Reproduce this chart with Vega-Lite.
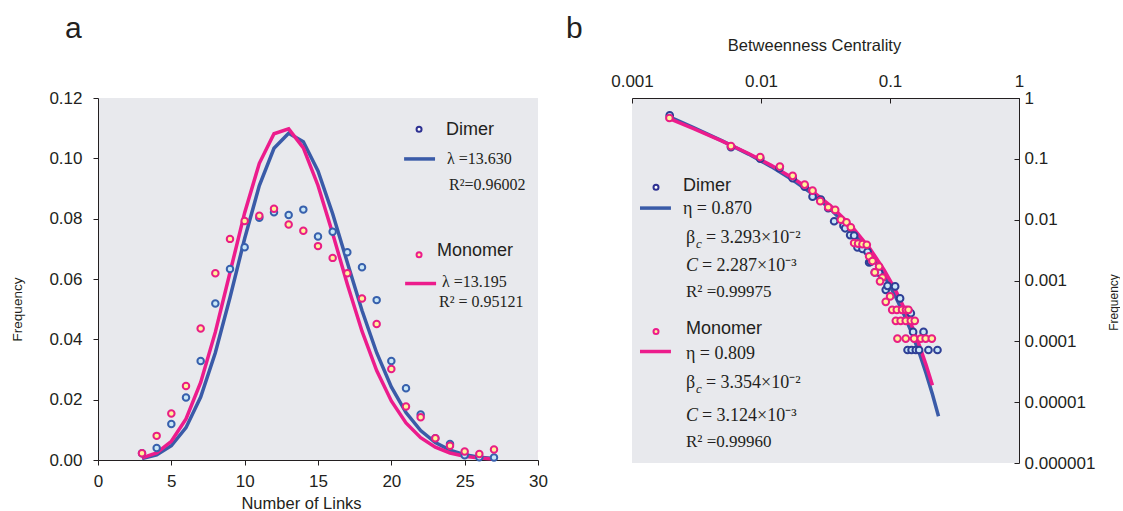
{
  "$schema": "https://vega.github.io/schema/vega-lite/v6.json",
  "background": "white",
  "padding": {"left": 10, "top": 14, "right": 0, "bottom": 0},
  "bounds": "flush",
  "spacing": 94,
  "config": {
    "view": {"fill": "#e8e9ed", "stroke": null},
    "font": "Liberation Sans",
    "axis": {
      "grid": false,
      "domainColor": "#231f20",
      "tickColor": "#231f20",
      "labelColor": "#231f20",
      "titleColor": "#231f20",
      "labelFont": "Liberation Sans",
      "titleFont": "Liberation Sans",
      "titleFontWeight": "normal",
      "labelFontSize": 17,
      "labelFlush": false,
      "labelOverlap": false
    }
  },
  "datasets": {
    "aPts": [
      {"series": "Dimer", "links": 3, "freq": 0.0022}, {"series": "Dimer", "links": 4, "freq": 0.0040},
      {"series": "Dimer", "links": 5, "freq": 0.0119}, {"series": "Dimer", "links": 6, "freq": 0.0207},
      {"series": "Dimer", "links": 7, "freq": 0.0328}, {"series": "Dimer", "links": 8, "freq": 0.0519},
      {"series": "Dimer", "links": 9, "freq": 0.0633}, {"series": "Dimer", "links": 10, "freq": 0.0705},
      {"series": "Dimer", "links": 11, "freq": 0.0803}, {"series": "Dimer", "links": 12, "freq": 0.0821},
      {"series": "Dimer", "links": 13, "freq": 0.0812}, {"series": "Dimer", "links": 14, "freq": 0.0830},
      {"series": "Dimer", "links": 15, "freq": 0.0741}, {"series": "Dimer", "links": 16, "freq": 0.0757},
      {"series": "Dimer", "links": 17, "freq": 0.0689}, {"series": "Dimer", "links": 18, "freq": 0.0639},
      {"series": "Dimer", "links": 19, "freq": 0.0530}, {"series": "Dimer", "links": 20, "freq": 0.0328},
      {"series": "Dimer", "links": 21, "freq": 0.0238}, {"series": "Dimer", "links": 22, "freq": 0.0151},
      {"series": "Dimer", "links": 23, "freq": 0.0072}, {"series": "Dimer", "links": 24, "freq": 0.0053},
      {"series": "Dimer", "links": 25, "freq": 0.0016}, {"series": "Dimer", "links": 26, "freq": 0.0009},
      {"series": "Dimer", "links": 27, "freq": 0.0008},
      {"series": "Monomer", "links": 3, "freq": 0.0022}, {"series": "Monomer", "links": 4, "freq": 0.0080},
      {"series": "Monomer", "links": 5, "freq": 0.0154}, {"series": "Monomer", "links": 6, "freq": 0.0245},
      {"series": "Monomer", "links": 7, "freq": 0.0436}, {"series": "Monomer", "links": 8, "freq": 0.0619},
      {"series": "Monomer", "links": 9, "freq": 0.0733}, {"series": "Monomer", "links": 10, "freq": 0.0792},
      {"series": "Monomer", "links": 11, "freq": 0.0810}, {"series": "Monomer", "links": 12, "freq": 0.0833},
      {"series": "Monomer", "links": 13, "freq": 0.0781}, {"series": "Monomer", "links": 14, "freq": 0.0760},
      {"series": "Monomer", "links": 15, "freq": 0.0709}, {"series": "Monomer", "links": 16, "freq": 0.0670},
      {"series": "Monomer", "links": 17, "freq": 0.0619}, {"series": "Monomer", "links": 18, "freq": 0.0535},
      {"series": "Monomer", "links": 19, "freq": 0.0451}, {"series": "Monomer", "links": 20, "freq": 0.0302},
      {"series": "Monomer", "links": 21, "freq": 0.0177}, {"series": "Monomer", "links": 22, "freq": 0.0142},
      {"series": "Monomer", "links": 23, "freq": 0.0072}, {"series": "Monomer", "links": 24, "freq": 0.0047},
      {"series": "Monomer", "links": 25, "freq": 0.0028}, {"series": "Monomer", "links": 26, "freq": 0.0020},
      {"series": "Monomer", "links": 27, "freq": 0.0035}
    ],
    "aFit": [
      {"series": "Dimer", "links": 3, "freq": 0.000508}, {"series": "Dimer", "links": 4, "freq": 0.001731},
      {"series": "Dimer", "links": 5, "freq": 0.004720}, {"series": "Dimer", "links": 6, "freq": 0.010721},
      {"series": "Dimer", "links": 7, "freq": 0.020876}, {"series": "Dimer", "links": 8, "freq": 0.035567},
      {"series": "Dimer", "links": 9, "freq": 0.053865}, {"series": "Dimer", "links": 10, "freq": 0.073418},
      {"series": "Dimer", "links": 11, "freq": 0.090974}, {"series": "Dimer", "links": 12, "freq": 0.10333},
      {"series": "Dimer", "links": 13, "freq": 0.10834}, {"series": "Dimer", "links": 14, "freq": 0.10548},
      {"series": "Dimer", "links": 15, "freq": 0.09584}, {"series": "Dimer", "links": 16, "freq": 0.08165},
      {"series": "Dimer", "links": 17, "freq": 0.06546}, {"series": "Dimer", "links": 18, "freq": 0.04957},
      {"series": "Dimer", "links": 19, "freq": 0.03556}, {"series": "Dimer", "links": 20, "freq": 0.02423},
      {"series": "Dimer", "links": 21, "freq": 0.01573}, {"series": "Dimer", "links": 22, "freq": 0.009746},
      {"series": "Dimer", "links": 23, "freq": 0.005775}, {"series": "Dimer", "links": 24, "freq": 0.003280},
      {"series": "Dimer", "links": 25, "freq": 0.001788}, {"series": "Dimer", "links": 26, "freq": 0.000937},
      {"series": "Dimer", "links": 27, "freq": 0.000473},
      {"series": "Monomer", "links": 3, "freq": 0.000712}, {"series": "Monomer", "links": 4, "freq": 0.002349},
      {"series": "Monomer", "links": 5, "freq": 0.006199}, {"series": "Monomer", "links": 6, "freq": 0.013633},
      {"series": "Monomer", "links": 7, "freq": 0.025698}, {"series": "Monomer", "links": 8, "freq": 0.042386},
      {"series": "Monomer", "links": 9, "freq": 0.062142}, {"series": "Monomer", "links": 10, "freq": 0.081996},
      {"series": "Monomer", "links": 11, "freq": 0.098358}, {"series": "Monomer", "links": 12, "freq": 0.10815},
      {"series": "Monomer", "links": 13, "freq": 0.10977}, {"series": "Monomer", "links": 14, "freq": 0.10346},
      {"series": "Monomer", "links": 15, "freq": 0.09101}, {"series": "Monomer", "links": 16, "freq": 0.07506},
      {"series": "Monomer", "links": 17, "freq": 0.05826}, {"series": "Monomer", "links": 18, "freq": 0.04271},
      {"series": "Monomer", "links": 19, "freq": 0.02966}, {"series": "Monomer", "links": 20, "freq": 0.01957},
      {"series": "Monomer", "links": 21, "freq": 0.01230}, {"series": "Monomer", "links": 22, "freq": 0.007375},
      {"series": "Monomer", "links": 23, "freq": 0.004231}, {"series": "Monomer", "links": 24, "freq": 0.002326},
      {"series": "Monomer", "links": 25, "freq": 0.001228}, {"series": "Monomer", "links": 26, "freq": 0.000623},
      {"series": "Monomer", "links": 27, "freq": 0.000304}
    ],
    "bPts": [
      {"series": "Dimer", "bc": 0.00196, "freq": 0.518}, {"series": "Dimer", "bc": 0.00585, "freq": 0.156},
      {"series": "Dimer", "bc": 0.00986, "freq": 0.101}, {"series": "Dimer", "bc": 0.0139, "freq": 0.0702},
      {"series": "Dimer", "bc": 0.0176, "freq": 0.0481}, {"series": "Dimer", "bc": 0.0218, "freq": 0.0350},
      {"series": "Dimer", "bc": 0.0251, "freq": 0.0239}, {"series": "Dimer", "bc": 0.0291, "freq": 0.0214},
      {"series": "Dimer", "bc": 0.0332, "freq": 0.0154}, {"series": "Dimer", "bc": 0.0369, "freq": 0.00942},
      {"series": "Dimer", "bc": 0.0436, "freq": 0.00796}, {"series": "Dimer", "bc": 0.0449, "freq": 0.00722},
      {"series": "Dimer", "bc": 0.0491, "freq": 0.00558}, {"series": "Dimer", "bc": 0.0527, "freq": 0.00545},
      {"series": "Dimer", "bc": 0.0560, "freq": 0.0035}, {"series": "Dimer", "bc": 0.0612, "freq": 0.0033},
      {"series": "Dimer", "bc": 0.0670, "freq": 0.00297}, {"series": "Dimer", "bc": 0.0689, "freq": 0.00198},
      {"series": "Dimer", "bc": 0.0709, "freq": 0.00203}, {"series": "Dimer", "bc": 0.0762, "freq": 0.00136},
      {"series": "Dimer", "bc": 0.0823, "freq": 0.00135}, {"series": "Dimer", "bc": 0.0927, "freq": 0.000703},
      {"series": "Dimer", "bc": 0.0957, "freq": 0.000818}, {"series": "Dimer", "bc": 0.1096, "freq": 0.0008},
      {"series": "Dimer", "bc": 0.1197, "freq": 0.000507}, {"series": "Dimer", "bc": 0.145, "freq": 0.00029},
      {"series": "Dimer", "bc": 0.151, "freq": 0.000143}, {"series": "Dimer", "bc": 0.182, "freq": 0.000143},
      {"series": "Dimer", "bc": 0.1368, "freq": 0.000072}, {"series": "Dimer", "bc": 0.147, "freq": 0.000072},
      {"series": "Dimer", "bc": 0.1585, "freq": 0.000072}, {"series": "Dimer", "bc": 0.168, "freq": 0.000072},
      {"series": "Dimer", "bc": 0.1986, "freq": 0.000072}, {"series": "Dimer", "bc": 0.2333, "freq": 0.000072},
      {"series": "Monomer", "bc": 0.00195, "freq": 0.469}, {"series": "Monomer", "bc": 0.00585, "freq": 0.162},
      {"series": "Monomer", "bc": 0.00986, "freq": 0.107}, {"series": "Monomer", "bc": 0.0140, "freq": 0.0747},
      {"series": "Monomer", "bc": 0.0176, "freq": 0.0525}, {"series": "Monomer", "bc": 0.0218, "freq": 0.0377},
      {"series": "Monomer", "bc": 0.0251, "freq": 0.0300}, {"series": "Monomer", "bc": 0.0288, "freq": 0.0201},
      {"series": "Monomer", "bc": 0.0332, "freq": 0.0160}, {"series": "Monomer", "bc": 0.0376, "freq": 0.01445},
      {"series": "Monomer", "bc": 0.0416, "freq": 0.0100}, {"series": "Monomer", "bc": 0.0460, "freq": 0.00906},
      {"series": "Monomer", "bc": 0.0497, "freq": 0.0075}, {"series": "Monomer", "bc": 0.0527, "freq": 0.00413},
      {"series": "Monomer", "bc": 0.0566, "freq": 0.00405}, {"series": "Monomer", "bc": 0.0612, "freq": 0.00395},
      {"series": "Monomer", "bc": 0.0661, "freq": 0.00387}, {"series": "Monomer", "bc": 0.0689, "freq": 0.0025},
      {"series": "Monomer", "bc": 0.0731, "freq": 0.00209}, {"series": "Monomer", "bc": 0.0823, "freq": 0.0017},
      {"series": "Monomer", "bc": 0.0762, "freq": 0.00136}, {"series": "Monomer", "bc": 0.0874, "freq": 0.00112},
      {"series": "Monomer", "bc": 0.0837, "freq": 0.00097}, {"series": "Monomer", "bc": 0.1002, "freq": 0.000547},
      {"series": "Monomer", "bc": 0.0927, "freq": 0.000446},
      {"series": "Monomer", "bc": 0.1040, "freq": 0.000329}, {"series": "Monomer", "bc": 0.1130, "freq": 0.000329},
      {"series": "Monomer", "bc": 0.1240, "freq": 0.000329}, {"series": "Monomer", "bc": 0.1330, "freq": 0.000329},
      {"series": "Monomer", "bc": 0.1390, "freq": 0.000329},
      {"series": "Monomer", "bc": 0.111, "freq": 0.000217}, {"series": "Monomer", "bc": 0.121, "freq": 0.000217},
      {"series": "Monomer", "bc": 0.1325, "freq": 0.000217}, {"series": "Monomer", "bc": 0.145, "freq": 0.000217},
      {"series": "Monomer", "bc": 0.1556, "freq": 0.000217},
      {"series": "Monomer", "bc": 0.1142, "freq": 0.000111}, {"series": "Monomer", "bc": 0.1325, "freq": 0.000111},
      {"series": "Monomer", "bc": 0.1537, "freq": 0.000111}, {"series": "Monomer", "bc": 0.1733, "freq": 0.000111},
      {"series": "Monomer", "bc": 0.189, "freq": 0.000111}, {"series": "Monomer", "bc": 0.211, "freq": 0.000111}
    ],
    "bFit": [
      {"series": "Dimer", "bc": 0.00195, "freq": 0.4912}, {"series": "Dimer", "bc": 0.003, "freq": 0.3270},
      {"series": "Dimer", "bc": 0.005, "freq": 0.1973}, {"series": "Dimer", "bc": 0.008, "freq": 0.1197},
      {"series": "Dimer", "bc": 0.012, "freq": 0.07449}, {"series": "Dimer", "bc": 0.018, "freq": 0.04363},
      {"series": "Dimer", "bc": 0.025, "freq": 0.02651}, {"series": "Dimer", "bc": 0.035, "freq": 0.01460},
      {"series": "Dimer", "bc": 0.05, "freq": 0.006789}, {"series": "Dimer", "bc": 0.07, "freq": 0.002760},
      {"series": "Dimer", "bc": 0.09, "freq": 0.001208}, {"series": "Dimer", "bc": 0.11, "freq": 0.0005527},
      {"series": "Dimer", "bc": 0.13, "freq": 0.0002604}, {"series": "Dimer", "bc": 0.15, "freq": 0.0001253},
      {"series": "Dimer", "bc": 0.17, "freq": 0.0000612}, {"series": "Dimer", "bc": 0.19, "freq": 0.0000303},
      {"series": "Dimer", "bc": 0.2133, "freq": 0.0000135}, {"series": "Dimer", "bc": 0.2377, "freq": 0.00000586},
      {"series": "Monomer", "bc": 0.00195, "freq": 0.4590}, {"series": "Monomer", "bc": 0.003, "freq": 0.3139},
      {"series": "Monomer", "bc": 0.005, "freq": 0.1956}, {"series": "Monomer", "bc": 0.008, "freq": 0.1223},
      {"series": "Monomer", "bc": 0.012, "freq": 0.07820}, {"series": "Monomer", "bc": 0.018, "freq": 0.04711},
      {"series": "Monomer", "bc": 0.025, "freq": 0.02932}, {"series": "Monomer", "bc": 0.035, "freq": 0.01657},
      {"series": "Monomer", "bc": 0.05, "freq": 0.007940}, {"series": "Monomer", "bc": 0.07, "freq": 0.003332},
      {"series": "Monomer", "bc": 0.09, "freq": 0.001497}, {"series": "Monomer", "bc": 0.11, "freq": 0.000701},
      {"series": "Monomer", "bc": 0.13, "freq": 0.0003375}, {"series": "Monomer", "bc": 0.15, "freq": 0.0001655},
      {"series": "Monomer", "bc": 0.17, "freq": 0.0000825}, {"series": "Monomer", "bc": 0.19, "freq": 0.0000415},
      {"series": "Monomer", "bc": 0.2133, "freq": 0.0000189}
    ]
  },
  "hconcat": [
    {
      "width": 440,
      "height": 362,
      "title": {"text": "a", "anchor": "start", "frame": "group", "fontSize": 30, "fontWeight": "normal", "font": "Liberation Sans", "color": "#231f20", "dx": -33, "offset": 45},
      "layer": [
        {
          "data": {"name": "aFit"},
          "transform": [{"filter": "datum.series === 'Dimer'"}],
          "mark": {"type": "line", "color": "#3a5ba8", "strokeWidth": 3.5},
          "encoding": {
            "x": {"field": "links", "type": "quantitative", "scale": {"domain": [0, 30], "nice": false},
              "axis": {"title": "Number of Links", "titleFontSize": 16.5, "titleX": 203, "values": [0, 5, 10, 15, 20, 25, 30], "format": "d", "tickSize": 5, "labelPadding": 8, "titlePadding": 6}},
            "y": {"field": "freq", "type": "quantitative", "scale": {"domain": [0, 0.12], "nice": false},
              "axis": {"title": "Frequency", "titleFontSize": 13.5, "titleY": 211, "values": [0, 0.02, 0.04, 0.06, 0.08, 0.1, 0.12], "format": ".2f", "tickSize": 5, "labelPadding": 11, "titlePadding": 24}}
          }
        },
        {
          "data": {"name": "aFit"},
          "transform": [{"filter": "datum.series === 'Monomer'"}],
          "mark": {"type": "line", "color": "#ec1c8c", "strokeWidth": 3.5},
          "encoding": {"x": {"field": "links", "type": "quantitative"}, "y": {"field": "freq", "type": "quantitative"}}
        },
        {
          "data": {"name": "aPts"},
          "transform": [{"filter": "datum.series === 'Dimer'"}],
          "mark": {"type": "point", "shape": "circle", "size": 42, "strokeWidth": 2, "stroke": "#3760ad", "fill": "#c9e7f7", "opacity": 1, "filled": false},
          "encoding": {"x": {"field": "links", "type": "quantitative"}, "y": {"field": "freq", "type": "quantitative"}}
        },
        {
          "data": {"name": "aPts"},
          "transform": [{"filter": "datum.series === 'Monomer'"}],
          "mark": {"type": "point", "shape": "circle", "size": 42, "strokeWidth": 2, "stroke": "#e91e84", "fill": "#fff39a", "opacity": 1, "filled": false},
          "encoding": {"x": {"field": "links", "type": "quantitative"}, "y": {"field": "freq", "type": "quantitative"}}
        },
        {
          "data": {"values": [{}]},
          "mark": {"type": "point", "shape": "circle", "size": 25, "strokeWidth": 2, "stroke": "#2e3192", "fill": "#ffffff", "opacity": 1, "dy": 2},
          "encoding": {"x": {"datum": 21.89}, "y": {"datum": 0.1096}}
        },
        {
          "data": {"values": [{}]},
          "mark": {"type": "point", "shape": "circle", "size": 25, "strokeWidth": 2, "stroke": "#ec1c8c", "fill": "#fff39a", "opacity": 1},
          "encoding": {"x": {"datum": 21.89}, "y": {"datum": 0.0680}}
        },
        {
          "data": {"values": [{}]},
          "mark": {"type": "rule", "color": "#3a5ba8", "strokeWidth": 3.5},
          "encoding": {"x": {"datum": 20.87}, "x2": {"datum": 22.98}, "y": {"datum": 0.0998}}
        },
        {
          "data": {"values": [{}]},
          "mark": {"type": "rule", "color": "#ec1c8c", "strokeWidth": 3.5},
          "encoding": {"x": {"datum": 20.94}, "x2": {"datum": 23.05}, "y": {"datum": 0.0585}}
        },
        {
          "data": {"values": [{}]},
          "mark": {"type": "text", "text": "Dimer", "align": "left", "baseline": "middle", "fontSize": 18, "font": "Liberation Sans", "color": "#231f20", "dy": 3},
          "encoding": {"x": {"datum": 23.73}, "y": {"datum": 0.1103}}
        },
        {
          "data": {"values": [{}]},
          "mark": {"type": "text", "text": "λ =13.630", "align": "left", "baseline": "middle", "fontSize": 16, "font": "Liberation Serif", "color": "#231f20", "dy": 2},
          "encoding": {"x": {"datum": 23.80}, "y": {"datum": 0.1006}}
        },
        {
          "data": {"values": [{}]},
          "mark": {"type": "text", "text": "R²=0.96002", "align": "left", "baseline": "middle", "fontSize": 16, "font": "Liberation Serif", "color": "#231f20", "dy": 3},
          "encoding": {"x": {"datum": 23.94}, "y": {"datum": 0.0923}}
        },
        {
          "data": {"values": [{}]},
          "mark": {"type": "text", "text": "Monomer", "align": "left", "baseline": "middle", "fontSize": 18, "font": "Liberation Sans", "color": "#231f20", "dy": 2},
          "encoding": {"x": {"datum": 23.12}, "y": {"datum": 0.0700}}
        },
        {
          "data": {"values": [{}]},
          "mark": {"type": "text", "text": "λ =13.195", "align": "left", "baseline": "middle", "fontSize": 16, "font": "Liberation Serif", "color": "#231f20", "dy": 3},
          "encoding": {"x": {"datum": 23.46}, "y": {"datum": 0.0600}}
        },
        {
          "data": {"values": [{}]},
          "mark": {"type": "text", "text": "R² = 0.95121", "align": "left", "baseline": "middle", "fontSize": 16, "font": "Liberation Serif", "color": "#231f20", "dy": 1},
          "encoding": {"x": {"datum": 23.25}, "y": {"datum": 0.0527}}
        }
      ]
    },
    {
      "width": 387,
      "height": 365,
      "title": {"text": "b", "anchor": "start", "frame": "group", "fontSize": 30, "fontWeight": "normal", "font": "Liberation Sans", "color": "#231f20", "dx": -66, "offset": -7},
      "layer": [
        {
          "data": {"name": "bFit"},
          "transform": [{"filter": "datum.series === 'Dimer'"}],
          "mark": {"type": "line", "color": "#3a5ba8", "strokeWidth": 3.5},
          "encoding": {
            "x": {"field": "bc", "type": "quantitative", "scale": {"type": "log", "domain": [0.001, 1], "nice": false},
              "axis": {"orient": "top", "title": "Betweenness Centrality", "titleFontSize": 16.5, "titleX": 182, "values": [0.001, 0.01, 0.1, 1], "format": ".3~f", "tickSize": -5, "labelPadding": 13, "titlePadding": 19}},
            "y": {"field": "freq", "type": "quantitative", "scale": {"type": "log", "domain": [0.000001, 1], "nice": false},
              "axis": {"orient": "right", "title": "Frequency", "titleFontSize": 12, "titleAngle": 270, "titleY": 204, "values": [0.000001, 0.00001, 0.0001, 0.001, 0.01, 0.1, 1], "format": ".6~f", "tickSize": -5, "labelPadding": 10, "titlePadding": 26}}
          }
        },
        {
          "data": {"name": "bFit"},
          "transform": [{"filter": "datum.series === 'Monomer'"}],
          "mark": {"type": "line", "color": "#ec1c8c", "strokeWidth": 3.5},
          "encoding": {"x": {"field": "bc", "type": "quantitative"}, "y": {"field": "freq", "type": "quantitative"}}
        },
        {
          "data": {"name": "bPts"},
          "transform": [{"filter": "datum.series === 'Dimer'"}],
          "mark": {"type": "point", "shape": "circle", "size": 45, "strokeWidth": 2, "stroke": "#2e3f96", "fill": "#c9e7f7", "opacity": 1, "filled": false},
          "encoding": {"x": {"field": "bc", "type": "quantitative"}, "y": {"field": "freq", "type": "quantitative"}}
        },
        {
          "data": {"name": "bPts"},
          "transform": [{"filter": "datum.series === 'Monomer'"}],
          "mark": {"type": "point", "shape": "circle", "size": 45, "strokeWidth": 2, "stroke": "#e91e84", "fill": "#fff39a", "opacity": 1, "filled": false},
          "encoding": {"x": {"field": "bc", "type": "quantitative"}, "y": {"field": "freq", "type": "quantitative"}}
        },
        {
          "data": {"values": [{}]},
          "mark": {"type": "point", "shape": "circle", "size": 25, "strokeWidth": 2, "stroke": "#2e3192", "fill": "#ffffff", "opacity": 1},
          "encoding": {"x": {"datum": 0.001535}, "y": {"datum": 0.0340}}
        },
        {
          "data": {"values": [{}]},
          "mark": {"type": "point", "shape": "circle", "size": 25, "strokeWidth": 2, "stroke": "#ec1c8c", "fill": "#fff39a", "opacity": 1},
          "encoding": {"x": {"datum": 0.001535}, "y": {"datum": 0.000145}}
        },
        {
          "data": {"values": [{}]},
          "mark": {"type": "rule", "color": "#3a5ba8", "strokeWidth": 3.5},
          "encoding": {"x": {"datum": 0.001153}, "x2": {"datum": 0.002004}, "y": {"datum": 0.0155}}
        },
        {
          "data": {"values": [{}]},
          "mark": {"type": "rule", "color": "#ec1c8c", "strokeWidth": 3.5},
          "encoding": {"x": {"datum": 0.001153}, "x2": {"datum": 0.002004}, "y": {"datum": 0.0000680}}
        },
        {
          "data": {"values": [{}]},
          "mark": {"type": "text", "text": "Dimer", "align": "left", "baseline": "middle", "fontSize": 18, "font": "Liberation Sans", "color": "#231f20", "dy": 3},
          "encoding": {"x": {"datum": 0.002483}, "y": {"datum": 0.04027}}
        },
        {
          "data": {"values": [{}]},
          "mark": {"type": "text", "text": "η = 0.870", "align": "left", "baseline": "middle", "fontSize": 18, "font": "Liberation Serif", "color": "#231f20", "dy": 3},
          "encoding": {"x": {"datum": 0.002483}, "y": {"datum": 0.01681}}
        },
        {
          "data": {"values": [{}]},
          "mark": {"type": "text", "text": "β", "align": "left", "baseline": "middle", "fontSize": 18, "font": "Liberation Serif", "color": "#231f20", "dy": 3},
          "encoding": {"x": {"datum": 0.00262}, "y": {"datum": 0.005598}}
        },
        {
          "data": {"values": [{}]},
          "mark": {"type": "text", "text": "c", "align": "left", "baseline": "middle", "fontSize": 13, "fontStyle": "italic", "font": "Liberation Serif", "color": "#231f20", "dx": 10, "dy": 9},
          "encoding": {"x": {"datum": 0.00262}, "y": {"datum": 0.005598}}
        },
        {
          "data": {"values": [{}]},
          "mark": {"type": "text", "text": "= 3.293×10⁻²", "align": "left", "baseline": "middle", "fontSize": 18, "font": "Liberation Serif", "color": "#231f20", "dx": 20, "dy": 3},
          "encoding": {"x": {"datum": 0.00262}, "y": {"datum": 0.005598}}
        },
        {
          "data": {"values": [{}]},
          "mark": {"type": "text", "text": "C", "align": "left", "baseline": "middle", "fontSize": 18, "fontStyle": "italic", "font": "Liberation Serif", "color": "#231f20", "dy": 3},
          "encoding": {"x": {"datum": 0.00262}, "y": {"datum": 0.001935}}
        },
        {
          "data": {"values": [{}]},
          "mark": {"type": "text", "text": "= 2.287×10⁻³", "align": "left", "baseline": "middle", "fontSize": 18, "font": "Liberation Serif", "color": "#231f20", "dx": 16, "dy": 3},
          "encoding": {"x": {"datum": 0.00262}, "y": {"datum": 0.001935}}
        },
        {
          "data": {"values": [{}]},
          "mark": {"type": "text", "text": "R² =0.99975", "align": "left", "baseline": "middle", "fontSize": 17, "font": "Liberation Serif", "color": "#231f20", "dy": 3},
          "encoding": {"x": {"datum": 0.00262}, "y": {"datum": 0.000721}}
        },
        {
          "data": {"values": [{}]},
          "mark": {"type": "text", "text": "Monomer", "align": "left", "baseline": "middle", "fontSize": 18, "font": "Liberation Sans", "color": "#231f20", "dy": 3},
          "encoding": {"x": {"datum": 0.00262}, "y": {"datum": 0.0001774}}
        },
        {
          "data": {"values": [{}]},
          "mark": {"type": "text", "text": "η = 0.809", "align": "left", "baseline": "middle", "fontSize": 18, "font": "Liberation Serif", "color": "#231f20", "dy": 3},
          "encoding": {"x": {"datum": 0.00262}, "y": {"datum": 0.0000687}}
        },
        {
          "data": {"values": [{}]},
          "mark": {"type": "text", "text": "β", "align": "left", "baseline": "middle", "fontSize": 18, "font": "Liberation Serif", "color": "#231f20", "dy": 3},
          "encoding": {"x": {"datum": 0.00262}, "y": {"datum": 0.0000229}}
        },
        {
          "data": {"values": [{}]},
          "mark": {"type": "text", "text": "c", "align": "left", "baseline": "middle", "fontSize": 13, "fontStyle": "italic", "font": "Liberation Serif", "color": "#231f20", "dx": 10, "dy": 9},
          "encoding": {"x": {"datum": 0.00262}, "y": {"datum": 0.0000229}}
        },
        {
          "data": {"values": [{}]},
          "mark": {"type": "text", "text": "= 3.354×10⁻²", "align": "left", "baseline": "middle", "fontSize": 18, "font": "Liberation Serif", "color": "#231f20", "dx": 20, "dy": 3},
          "encoding": {"x": {"datum": 0.00262}, "y": {"datum": 0.0000229}}
        },
        {
          "data": {"values": [{}]},
          "mark": {"type": "text", "text": "C", "align": "left", "baseline": "middle", "fontSize": 18, "fontStyle": "italic", "font": "Liberation Serif", "color": "#231f20", "dy": 3},
          "encoding": {"x": {"datum": 0.00262}, "y": {"datum": 0.00000654}}
        },
        {
          "data": {"values": [{}]},
          "mark": {"type": "text", "text": "= 3.124×10⁻³", "align": "left", "baseline": "middle", "fontSize": 18, "font": "Liberation Serif", "color": "#231f20", "dx": 16, "dy": 3},
          "encoding": {"x": {"datum": 0.00262}, "y": {"datum": 0.00000654}}
        },
        {
          "data": {"values": [{}]},
          "mark": {"type": "text", "text": "R² =0.99960", "align": "left", "baseline": "middle", "fontSize": 17, "font": "Liberation Serif", "color": "#231f20", "dy": 3},
          "encoding": {"x": {"datum": 0.00262}, "y": {"datum": 0.00000244}}
        }
      ]
    }
  ]
}
